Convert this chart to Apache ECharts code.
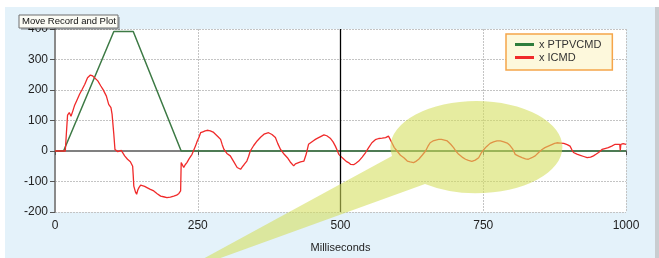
<!DOCTYPE html>
<html>
<head>
<meta charset="utf-8">
<script src="https://cdn.jsdelivr.net/npm/echarts@6/dist/echarts.min.js"></script>
<style>
  html, body { margin: 0; padding: 0; background: #fff; }
  #chart { width: 659px; height: 258px; }
</style>
</head>
<body>
<div id="chart"></div>
<script>
// x ticks / y ticks
const xTicks = [0, 250, 500, 750, 1000]
const yTicks = [-200, -100, 0, 100, 200, 300, 400]

// position command trace [ms, value]
const ptpvcmd = [[0, 0], [15, 0], [103, 392], [137, 392], [221, 0], [1000, 0]]

// current command trace [ms, value]
const icmd = [
  [0, 0], [18, 0], [20, 60], [22, 118], [25, 126], [28, 114], [31, 130], [34, 148], [38, 165],
  [43, 186], [47, 200], [52, 218], [57, 240], [62, 249], [66, 246], [69, 243], [75, 230],
  [80, 214], [84, 202], [90, 180], [94, 153], [98, 142], [100, 120], [101, 98], [103, 55],
  [105, 5], [110, -2], [116, 2], [122, -16], [127, -27], [132, -35], [136, -50], [137, -80],
  [138, -115], [141, -135], [143, -142], [145, -128], [147, -120], [150, -112], [153, -110],
  [157, -116], [161, -120], [167, -126], [173, -131], [179, -140], [185, -148], [190, -150],
  [196, -153], [202, -151], [208, -148], [213, -145], [217, -139], [220, -131], [221, -38],
  [224, -33], [225.5, -54], [228, -45], [231, -38], [235, -25], [240, -11], [246, 16], [249, 32],
  [252, 44], [255, 60], [259, 63], [263, 66], [268, 68], [272, 66], [277, 62], [281, 55],
  [286, 46], [290, 38], [293, 20], [296, 5], [301, -8], [307, -16], [313, -35], [319, -54],
  [322, -58], [325, -60], [328, -52], [331, -45], [336, -33], [339, -18], [342, 0], [348, 18],
  [354, 33], [360, 45], [366, 55], [370, 58], [374, 60], [380, 54], [386, 44], [390, 25],
  [395, 5], [401, -10], [407, -22], [412, -36], [418, -49], [421, -42], [424, -38], [430, -36],
  [436, -33], [440, -10], [444, 22], [447, 25], [452, 33], [456, 38], [460, 42], [466, 48],
  [471, 53], [476, 50], [482, 42], [487, 30], [491, 16], [494, 3], [497, -11], [502, -20],
  [506, -27], [510, -34], [514, -38], [518, -44], [523, -45], [527, -40], [532, -33], [538, -20],
  [544, -5], [549, 10], [555, 27], [561, 37], [567, 41], [573, 42], [579, 44], [584, 49],
  [587, 38], [590, 27], [594, 12], [599, 0], [605, -14], [611, -22], [617, -33], [622, -36],
  [628, -38], [632, -34], [637, -27], [643, -14], [649, 0], [653, 15], [657, 27], [662, 33],
  [667, 36], [672, 38], [677, 38], [682, 36], [687, 33], [693, 22], [698, 11], [702, 0],
  [707, -11], [713, -20], [719, -27], [724, -31], [730, -34], [736, -30], [742, -22], [746, -8],
  [751, 5], [756, 15], [762, 25], [768, 30], [774, 33], [780, 33], [786, 30], [792, 26],
  [797, 18], [802, 5], [806, -11], [812, -17], [818, -22], [824, -26], [829, -27], [835, -22],
  [841, -16], [847, -5], [853, 5], [858, 11], [864, 16], [870, 21], [875, 25], [879, 27],
  [885, 26], [891, 25], [897, 21], [902, 16], [905, 5], [908, -5], [914, -10], [920, -14],
  [926, -18], [932, -22], [938, -20], [943, -16], [948, -10], [952, -5], [958, 5], [963, 8],
  [969, 11], [975, 16], [981, 22], [985, 22], [989, 22], [990, 2], [991, 22], [995, 24], [1000, 22]
]

const cursorAt = 500

// callout shape (ellipse + pointer) as one path so the overlap isn't doubled
const Callout = echarts.graphic.extendPath(
  'M 201 260 L 392 156 A 86 46 0 1 1 425 184 L 215 260 Z', {}
)
echarts.graphic.registerShape('callout', Callout)

const chart = echarts.init(document.getElementById('chart'))

const font = '"Liberation Sans", Arial, sans-serif'

const option = {
  backgroundColor: '#fff',
  animation: false,
  grid: {
    left: 55,
    right: 33,
    top: 29,
    bottom: 45,
    show: true,
    backgroundColor: '#fff',
    borderWidth: 0
  },
  legend: {
    orient: 'vertical',
    left: 506,
    top: 34,
    padding: [4, 11, 6, 9],
    itemGap: 0,
    itemWidth: 19,
    itemHeight: 3,
    icon: 'rect',
    backgroundColor: '#fdf8dc',
    borderColor: '#f5a54a',
    borderWidth: 1.5,
    textStyle: { fontFamily: font, fontSize: 11, color: '#333', lineHeight: 13 },
    data: ['x PTPVCMD', 'x ICMD']
  },
  xAxis: {
    type: 'value',
    min: xTicks[0],
    max: xTicks[xTicks.length - 1],
    interval: 250,
    name: 'Milliseconds',
    nameLocation: 'middle',
    nameGap: 30,
    nameTextStyle: { fontFamily: font, fontSize: 11, color: '#222' },
    axisLine: { lineStyle: { color: '#808080', width: 2 } },
    axisTick: { show: true, length: 4, lineStyle: { color: '#555' } },
    axisLabel: { fontFamily: font, fontSize: 12, color: '#222', margin: 8, formatter: v => String(v) },
    splitLine: { show: true, lineStyle: { color: '#c4c4c4', type: [2, 1], width: 1 } }
  },
  yAxis: {
    type: 'value',
    min: yTicks[0],
    max: yTicks[yTicks.length - 1],
    interval: 100,
    axisLine: { show: true, lineStyle: { color: '#8a8a8a', width: 2 } },
    axisTick: { show: true, length: 5, lineStyle: { color: '#555' } },
    axisLabel: { fontFamily: font, fontSize: 12, color: '#222', margin: 7 },
    splitLine: { show: true, lineStyle: { color: '#c4c4c4', type: [2, 1], width: 1 } }
  },
  series: [
    {
      name: 'x PTPVCMD',
      type: 'line',
      data: ptpvcmd,
      showSymbol: false,
      color: '#2f7d3c',
      lineStyle: { color: '#3d7a45', width: 1.5 },
      z: 3
    },
    {
      name: 'x ICMD',
      type: 'line',
      data: icmd,
      showSymbol: false,
      color: '#f02a2a',
      lineStyle: { color: '#f02a2a', width: 1.3 },
      z: 4,
      markLine: {
        silent: true,
        symbol: 'none',
        label: { show: false },
        lineStyle: { color: '#000', width: 1.3, type: 'solid' },
        data: [{ xAxis: cursorAt }]
      }
    }
  ],
  graphic: [
    // light blue panel behind the chart
    {
      type: 'rect',
      z: -10,
      shape: { x: 5, y: 7, width: 650, height: 260 },
      style: { fill: '#e4f2fa' }
    },
    {
      type: 'rect',
      z: -10,
      shape: { x: 655, y: 7, width: 4, height: 260 },
      style: { fill: '#c9cdd0' }
    },
    // highlight callout
    {
      type: 'callout',
      z: 100,
      silent: true,
      style: { fill: 'rgba(212,222,92,0.58)' }
    },
    // tooltip-like label
    {
      type: 'rect',
      z: 101,
      shape: { x: 21, y: 17, width: 99, height: 13 },
      style: { fill: 'rgba(0,0,0,0.25)' }
    },
    {
      type: 'rect',
      z: 102,
      shape: { x: 19, y: 15, width: 99, height: 13 },
      style: { fill: '#fbfbf4', stroke: '#6e6e6e', lineWidth: 1 }
    },
    {
      type: 'text',
      z: 103,
      x: 22,
      y: 16.5,
      style: { text: 'Move Record and Plot', fontFamily: font, fontSize: 9.5, fill: '#111' }
    }
  ]
}

chart.setOption(option)

window.addEventListener('resize', () => {
  chart && chart.resize()
})
</script>
</body>
</html>
